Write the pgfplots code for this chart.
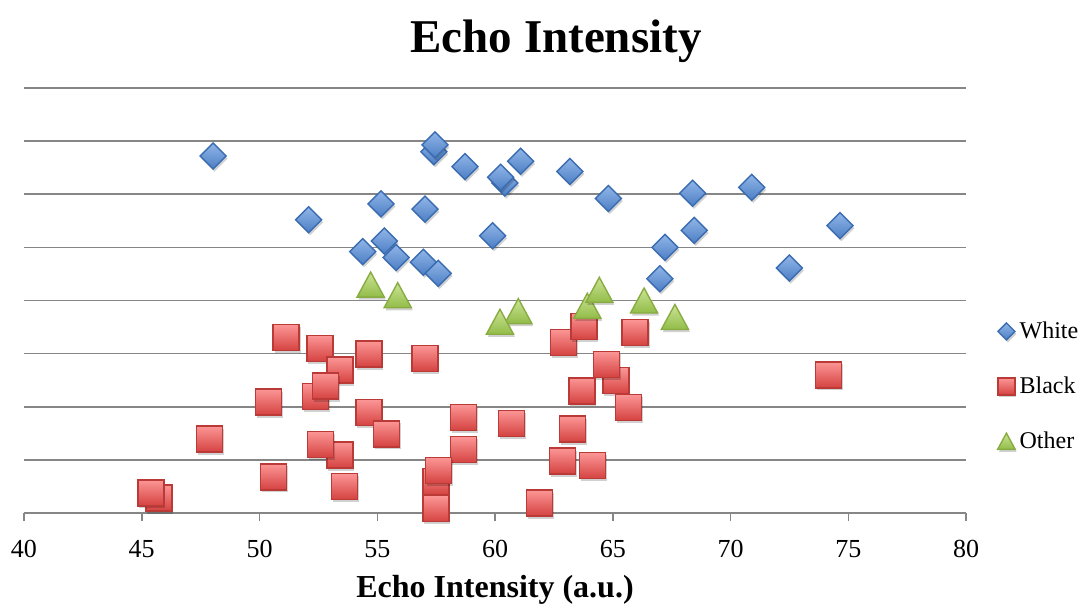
\documentclass[border=0pt]{standalone}
\usepackage{fontspec}
\setmainfont{Liberation Serif}
\usepackage{pgfplots}
\pgfplotsset{compat=1.18}

\definecolor{gridgray}{HTML}{868686}
\definecolor{blueTop}{RGB}{145,182,232}
\definecolor{blueBot}{RGB}{76,126,196}
\definecolor{blueEdge}{RGB}{58,108,178}
\definecolor{redTop}{RGB}{252,150,150}
\definecolor{redBot}{RGB}{212,66,64}
\definecolor{redEdge}{RGB}{186,58,56}
\definecolor{grnTop}{RGB}{204,228,150}
\definecolor{grnBot}{RGB}{146,188,72}
\definecolor{grnEdge}{RGB}{136,172,66}

\pgfdeclareverticalshading{blueshade}{100bp}{color(0bp)=(blueBot); color(25bp)=(blueBot); color(75bp)=(blueTop); color(100bp)=(blueTop)}
\pgfdeclareverticalshading{redshade}{100bp}{color(0bp)=(redBot); color(25bp)=(redBot); color(75bp)=(redTop); color(100bp)=(redTop)}
\pgfdeclareverticalshading{grnshade}{100bp}{color(0bp)=(grnBot); color(25bp)=(grnBot); color(75bp)=(grnTop); color(100bp)=(grnTop)}

\def\diampath{\pgfpathmoveto{\pgfqpoint{0pt}{\pgfplotmarksize}}%
 \pgfpathlineto{\pgfqpoint{\pgfplotmarksize}{0pt}}%
 \pgfpathlineto{\pgfqpoint{0pt}{-\pgfplotmarksize}}%
 \pgfpathlineto{\pgfqpoint{-\pgfplotmarksize}{0pt}}\pgfpathclose}
\def\sqpath{\pgfpathrectangle{\pgfqpoint{-\pgfplotmarksize}{-\pgfplotmarksize}}{\pgfqpoint{2\pgfplotmarksize}{2\pgfplotmarksize}}}
\def\tripath{\pgfpathmoveto{\pgfqpoint{0pt}{0.92\pgfplotmarksize}}%
 \pgfpathlineto{\pgfqpoint{\pgfplotmarksize}{-0.92\pgfplotmarksize}}%
 \pgfpathlineto{\pgfqpoint{-\pgfplotmarksize}{-0.92\pgfplotmarksize}}\pgfpathclose}

\def\markshadow#1{\begin{pgfscope}\pgftransformshift{\pgfqpoint{0.7pt}{-1.3pt}}%
 \pgfsetfillcolor{black}\pgfsetfillopacity{0.18}#1\pgfusepath{fill}\end{pgfscope}}

\pgfdeclareplotmark{xdiam}{\markshadow{\diampath}%
 \diampath\pgfshadepath{blueshade}{0}\pgfsetstrokecolor{blueEdge}\pgfsetlinewidth{0.7pt}\pgfusepath{stroke}}
\pgfdeclareplotmark{xsq}{\markshadow{\sqpath}%
 \sqpath\pgfshadepath{redshade}{0}\pgfsetstrokecolor{redEdge}\pgfsetlinewidth{0.7pt}\pgfusepath{stroke}}
\pgfdeclareplotmark{xtri}{\markshadow{\tripath}%
 \tripath\pgfshadepath{grnshade}{0}\pgfsetstrokecolor{grnEdge}\pgfsetlinewidth{0.7pt}\pgfusepath{stroke}}

\begin{document}
\begin{tikzpicture}
\path[use as bounding box] (-12pt,-49pt) rectangle (533.5pt,256.5pt);
\begin{axis}[
  scale only axis,
  width=471pt, height=212.5pt,
  xmin=40, xmax=80, ymin=0, ymax=8,
  clip=false,
  axis x line*=bottom,
  axis y line*=left,
  y axis line style={draw=none},
  ytick style={draw=none},
  yticklabels={},
  xtick={40,45,...,80},
  ytick={0,1,...,8},
  ymajorgrids,
  grid style={gridgray, line width=0.75pt},
  x axis line style={gridgray, line width=0.75pt},
  xtick align=outside,
  major tick length=4pt,
  xtick style={gridgray, line width=0.75pt},
  /pgf/number format/assume math mode=true,
  xticklabel style={font=\fontsize{13}{15}\selectfont, anchor=base, yshift=-18pt},
  xlabel={Echo Intensity (a.u.)},
  xlabel style={font=\bfseries\fontsize{16}{19}\selectfont, at={(axis description cs:0.5,0)}, anchor=base, yshift=-42pt},
  legend style={draw=none, fill=none, at={(1.0324,0.298)}, anchor=west, inner sep=0pt,
     font=\fontsize{12}{14}\selectfont, row sep=16.5pt, column sep=1pt,
     nodes={inner sep=0.5pt}},
  legend cell align=left,
]
\addplot[only marks, mark=xdiam, mark size=6.5pt,
  legend image code/.code={\draw plot[mark=xdiam, mark size=4.25pt] coordinates {(0pt,0pt)};}]
 coordinates {
(48.03,6.72) (57.40,6.80) (57.45,6.93) (58.73,6.52) (61.09,6.62) (60.42,6.21) (60.24,6.32)
(63.18,6.43) (64.81,5.92) (68.39,6.02) (70.90,6.13) (74.65,5.41) (68.46,5.32) (67.22,5.00)
(67.00,4.41) (72.50,4.61) (59.90,5.22) (52.09,5.52) (55.16,5.82) (57.03,5.72) (55.30,5.12)
(54.38,4.92) (55.80,4.81) (56.96,4.72) (57.59,4.51)
};
\addlegendentry{White}
\addplot[only marks, mark=xsq, mark size=6.5pt,
  legend image code/.code={\draw plot[mark=xsq, mark size=4.25pt] coordinates {(0pt,0pt)};}]
 coordinates {
(51.13,3.30) (52.57,3.10) (54.65,2.99) (57.03,2.91) (53.42,2.69) (52.38,2.19) (52.81,2.39)
(50.39,2.09) (54.65,1.89) (55.40,1.49) (58.67,1.80) (47.87,1.39) (53.42,1.09) (52.60,1.29)
(58.67,1.19) (50.59,0.68) (53.60,0.50) (45.73,0.28) (45.39,0.38) (57.49,0.59) (57.61,0.80)
(57.49,0.08) (62.90,3.21) (63.78,3.51) (65.95,3.40) (65.14,2.49) (64.74,2.80) (63.69,2.30)
(65.66,1.99) (60.71,1.69) (63.28,1.58) (62.86,0.98) (64.15,0.89) (61.88,0.19) (74.17,2.60)
};
\addlegendentry{Black}
\addplot[only marks, mark=xtri, mark size=6.8pt,
  legend image code/.code={\draw plot[mark=xtri, mark size=4.4pt] coordinates {(0pt,0pt)};}]
 coordinates {
(54.72,4.30) (55.87,4.10) (63.92,3.90) (64.43,4.20) (66.33,4.00) (60.99,3.80) (60.21,3.60) (67.64,3.69)
};
\addlegendentry{Other}
\end{axis}
\node[font=\bfseries\fontsize{23.5}{28}\selectfont, anchor=base] at (266pt,230pt) {Echo Intensity};
\end{tikzpicture}
\end{document}
